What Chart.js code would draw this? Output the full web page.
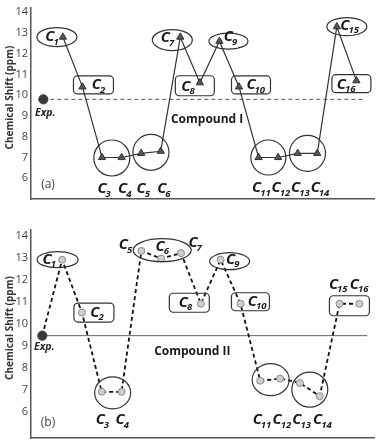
<!DOCTYPE html>
<html>
<head>
<meta charset="utf-8">
<script src="https://cdn.jsdelivr.net/npm/chart.js@4.4.1/dist/chart.umd.min.js"></script>
<style>
  html, body { margin: 0; padding: 0; background: #fff; }
  canvas { display: block; }
</style>
</head>
<body>
<canvas id="ca" width="380" height="220" style="width:380px;height:220px"></canvas>
<canvas id="cb" width="380" height="224" style="width:380px;height:224px"></canvas>
<script>
// ---------- data ----------
const carbons = ['1','2','3','4','5','6','7','8','9','10','11','12','13','14','15','16'];
const carbonPos = [1,2,3,4,5,6,7,8,9,10,11,12,13,14,15,16];
const shiftI  = [12.8,10.4,7.0,7.0,7.2,7.3,12.8,10.6,12.6,10.4,7.0,7.0,7.2,7.2,13.3,10.7];
const shiftII = [12.9,10.5,6.9,6.9,13.3,12.95,13.2,10.9,12.9,10.9,7.4,7.5,7.3,6.7,10.9,10.9];
const expPos = 0;
const expI = 9.8;
const expII = 9.45;
const refLineEnd = 16.4;
const yTickValues = [6,7,8,9,10,11,12,13,14];
const titleI = 'Compound I';
const titleII = 'Compound II';

// ---------- decoration (pixel offsets relative to the points) ----------
const decoA = {
  shapes: [
    {t:'e', idx:[0], dx:-6, dy:0, rx:20, ry:9.5},
    {t:'b', idx:[1], dx:11, dy:-2, w:40, h:18},
    {t:'e', idx:[2,3], dx:0, dy:0.5, rx:18, ry:18},
    {t:'e', idx:[4,5], dx:0, dy:0, rx:18, ry:18},
    {t:'e', idx:[6], dx:-8, dy:3, rx:20, ry:10.5},
    {t:'b', idx:[7], dx:-5, dy:3, w:39, h:20},
    {t:'e', idx:[8], dx:9, dy:0, rx:19.5, ry:8},
    {t:'b', idx:[9], dx:12, dy:-2, w:39, h:18},
    {t:'e', idx:[10,11], dx:0, dy:0, rx:17.5, ry:17.5},
    {t:'e', idx:[12,13], dx:0, dy:0, rx:18, ry:18},
    {t:'e', idx:[14], dx:10, dy:0, rx:20, ry:9},
    {t:'b', idx:[15], dx:-5, dy:3, w:39, h:18}
  ],
  labels: [
    {i:0, dx:-13, dy:0}, {i:1, dx:14, dy:-2},
    {i:2, dx:0, by:10}, {i:3, dx:1, by:10}, {i:4, dx:0, by:10}, {i:5, dx:1, by:10},
    {i:6, dx:-15, dy:1}, {i:7, dx:-14, dy:4}, {i:8, dx:9, dy:-4}, {i:9, dx:12, dy:-2},
    {i:10, dx:-2, by:11}, {i:11, dx:-2, by:11}, {i:12, dx:-2, by:11}, {i:13, dx:-2, by:11},
    {i:14, dx:8, dy:-1}, {i:15, dx:-15, dy:4}
  ],
  expLabel: {dx:2, dy:14},
  panel: '(a)', panelOff: {dx:17, dy:-14},
  compound: titleI, compoundAt: [8.37, 8.81]
};
const decoB = {
  shapes: [
    {t:'e', idx:[0], dx:-4.5, dy:0, rx:20.5, ry:8},
    {t:'b', idx:[1], dx:12, dy:0, w:40, h:19},
    {t:'e', idx:[2,3], dx:1, dy:1, rx:18, ry:16},
    {t:'e', idx:[4,5,6], dx:1, dy:-4, rx:29, ry:11.5},
    {t:'b', idx:[7], dx:-11.5, dy:-1, w:40, h:19},
    {t:'e', idx:[8], dx:9, dy:1.5, rx:20, ry:8.5},
    {t:'b', idx:[9], dx:10, dy:-2, w:38, h:18},
    {t:'e', idx:[10,11], dx:0.5, dy:0, rx:18.5, ry:16},
    {t:'e', idx:[12,13], dx:0, dy:0, rx:18, ry:17.5},
    {t:'b', idx:[14,15], dx:0, dy:2, w:40, h:20}
  ],
  labels: [
    {i:0, dx:-15, dy:0}, {i:1, dx:13, dy:0},
    {i:2, dx:-1.5, by:18}, {i:3, dx:-1.5, by:18},
    {i:4, dx:-18, dy:-6}, {i:5, dx:-1, dy:-12}, {i:6, dx:12, dy:-10},
    {i:7, dx:-17.5, dy:-1}, {i:8, dx:10, dy:0}, {i:9, dx:12, dy:-2},
    {i:10, dx:-3, by:18}, {i:11, dx:-3, by:18}, {i:12, dx:-3, by:18}, {i:13, dx:-2, by:18},
    {i:14, dx:-6, dy:-19}, {i:15, dx:-5, dy:-19}
  ],
  expLabel: {dx:2, dy:11},
  panel: '(b)', panelOff: {dx:17, dy:-15},
  compound: titleII, compoundAt: [7.57, 8.71]
};

const FONT = '"Open Sans", "Noto Sans", sans-serif';

function decoPlugin(deco, ys, expVal) {
  return {
    id: 'deco',
    afterDatasetsDraw(chart) {
      const {ctx, chartArea} = chart;
      const xs = chart.scales.x, yS = chart.scales.y;
      const px = i => xs.getPixelForValue(carbonPos[i]);
      const py = i => yS.getPixelForValue(ys[i]);
      ctx.save();
      ctx.strokeStyle = '#333';
      ctx.lineWidth = 1.2;
      deco.shapes.forEach(s => {
        const cx = s.idx.reduce((a, i) => a + px(i), 0) / s.idx.length + s.dx;
        const cy = s.idx.reduce((a, i) => a + py(i), 0) / s.idx.length + s.dy;
        ctx.beginPath();
        if (s.t === 'e') ctx.ellipse(cx, cy, s.rx, s.ry, 0, 0, Math.PI * 2);
        else ctx.roundRect(cx - s.w / 2, cy - s.h / 2, s.w, s.h, 4);
        ctx.stroke();
      });
      ctx.fillStyle = '#1a1a1a';
      deco.labels.forEach(l => {
        const cx = px(l.i) + l.dx;
        const cy = l.by !== undefined ? chartArea.bottom - l.by : py(l.i) + l.dy;
        ctx.font = 'italic bold 15px ' + FONT;
        ctx.textAlign = 'center';
        ctx.textBaseline = 'middle';
        ctx.fillText('C', cx, cy);
        const w = ctx.measureText('C').width;
        ctx.font = 'italic bold 9.5px ' + FONT;
        ctx.textAlign = 'left';
        ctx.fillText(carbons[l.i], cx + w / 2 - 1, cy + 5);
      });
      // Exp. label
      const ex = xs.getPixelForValue(expPos) + deco.expLabel.dx;
      const ey = yS.getPixelForValue(expVal) + deco.expLabel.dy;
      ctx.font = 'italic bold 10.5px ' + FONT;
      ctx.textAlign = 'center';
      ctx.textBaseline = 'middle';
      ctx.fillStyle = '#222';
      ctx.fillText('Exp.', ex, ey);
      // compound label
      ctx.font = 'bold 12px ' + FONT;
      ctx.fillStyle = '#1a1a1a';
      ctx.fillText(deco.compound, xs.getPixelForValue(deco.compoundAt[0]), yS.getPixelForValue(deco.compoundAt[1]));
      // panel letter
      ctx.font = '12px ' + FONT;
      ctx.fillStyle = '#444';
      ctx.fillText(deco.panel, chartArea.left + deco.panelOff.dx, chartArea.bottom + deco.panelOff.dy);
      // y title
      ctx.save();
      ctx.translate(10, (chartArea.top + chartArea.bottom) / 2 - 6);
      ctx.rotate(-Math.PI / 2);
      ctx.font = 'bold 10px ' + FONT;
      ctx.fillStyle = '#333';
      ctx.fillText('Chemical Shift (ppm)', 0, 0);
      ctx.restore();
      ctx.restore();
    }
  };
}

function makeChart(id, opts) {
  const pts = carbonPos.map((x, i) => ({x, y: opts.ys[i]}));
  const datasets = [];
  if (opts.dashedSeries) {
    datasets.push({
      data: [{x: expPos, y: opts.exp}].concat(pts),
      showLine: true, borderColor: '#111', borderWidth: 1.8, borderDash: [4, 3],
      pointRadius: [0].concat(pts.map(() => 3.5)),
      pointBackgroundColor: '#cfcfcf', pointBorderColor: '#8a8a8a', pointBorderWidth: 1,
      pointStyle: 'circle', order: 1
    });
  } else {
    datasets.push({
      data: pts, showLine: true, borderColor: '#333', borderWidth: 1.2,
      pointStyle: 'triangle', pointRadius: 4.2,
      pointBackgroundColor: '#555', pointBorderColor: '#333', pointBorderWidth: 1, order: 1
    });
  }
  datasets.push({
    data: [{x: expPos, y: opts.exp}, {x: refLineEnd, y: opts.exp}],
    showLine: true, borderColor: opts.dashedSeries ? '#666' : '#555',
    borderWidth: 1, borderDash: opts.dashedSeries ? [] : [4, 3],
    pointRadius: 0, order: 3
  });
  datasets.push({
    data: [{x: expPos, y: opts.exp}], showLine: false,
    pointRadius: 4.6, pointBackgroundColor: '#3a3a3a', pointBorderColor: '#3a3a3a', order: 0
  });
  return new Chart(document.getElementById(id), {
    type: 'scatter',
    data: {datasets},
    options: {
      responsive: false, animation: false, devicePixelRatio: 1,
      layout: {padding: {left: 0, right: 5, top: opts.padTop, bottom: opts.padBottom}},
      plugins: {legend: {display: false}, tooltip: {enabled: false}},
      scales: {
        x: {
          type: 'linear', min: opts.xmin, max: opts.xmax,
          grid: {display: false, drawTicks: false},
          border: {display: true, color: '#555', width: 1.5},
          ticks: {display: false},
          afterFit: s => { s.height = 0; s.paddingLeft = 0; s.paddingRight = 0; }
        },
        y: {
          type: 'linear', min: opts.ymin, max: opts.ymax,
          grid: {display: false, drawTicks: false},
          border: {display: true, color: '#555', width: 1.5},
          ticks: {padding: 3, color: '#444', font: {family: FONT, size: 11}},
          afterBuildTicks: s => { s.ticks = yTickValues.map(v => ({value: v})); },
          afterFit: s => { s.width = 31; s.paddingTop = 0; s.paddingBottom = 0; }
        }
      }
    },
    plugins: [decoPlugin(opts.deco, opts.ys, opts.exp)]
  });
}

makeChart('ca', {ys: shiftI, exp: expI, dashedSeries: false, deco: decoA,
  xmin: -0.63, xmax: 16.92, ymin: 5, ymax: 14.2, padTop: 8, padBottom: 21});
makeChart('cb', {ys: shiftII, exp: expII, dashedSeries: true, deco: decoB,
  xmin: -0.57, xmax: 16.76, ymin: 4.8, ymax: 14.25, padTop: 10, padBottom: 6});
</script>
</body>
</html>
